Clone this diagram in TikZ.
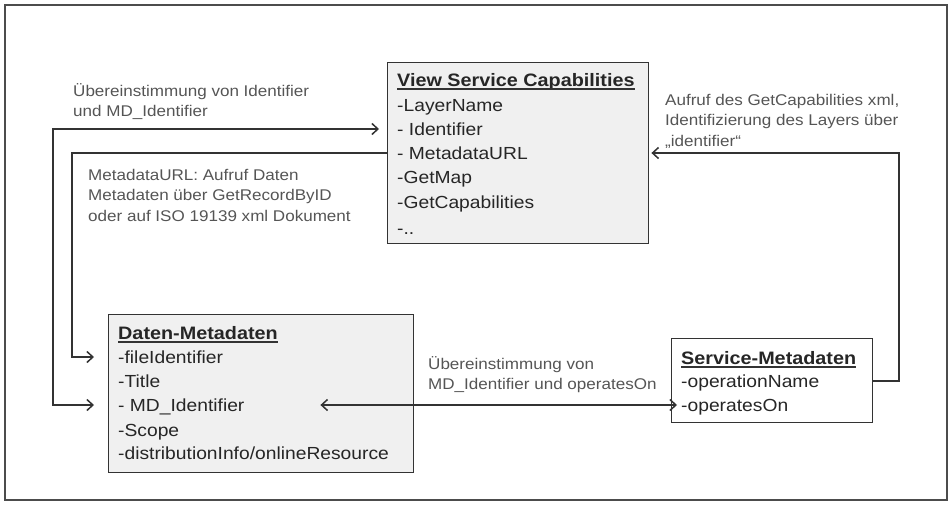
\documentclass[tikz,border=0pt]{standalone}
\usepackage{fontspec}
\setmainfont[FakeStretch=1.1]{Liberation Sans}
\usepackage{xcolor}
\usetikzlibrary{arrows.meta,calc}

\definecolor{inkgray}{HTML}{333333}
\definecolor{txtgray}{HTML}{555555}
\definecolor{boxfill}{HTML}{F0F0F0}

\begin{document}
\begin{tikzpicture}[
    x=1pt, y=-1pt,
    >={Straight Barb[length=6pt,width=11pt]},
    box/.style={rectangle, draw=inkgray, line width=1.4pt, fill=boxfill, anchor=north west, inner sep=0pt},
    head/.style={anchor=west, inner sep=0pt, font=\fontsize{18}{21}\selectfont\bfseries, text=black!85, text height=12.9pt, text depth=0pt},
    item/.style={anchor=west, inner sep=0pt, font=\fontsize{17.5}{21}\selectfont, text=black!85, text height=12.5pt, text depth=0pt},
    note/.style={anchor=north west, inner sep=0pt, align=left, font=\fontsize{15.5}{20.5}\selectfont, text=txtgray},
    link/.style={draw=inkgray, line width=1.5pt},
    uline/.style={draw=black!80, line width=1.2pt}
]
\useasboundingbox (0,0) rectangle (952,504);
\draw[draw=black!70, line width=1.5pt] (5,5) rectangle (947,500);

% === View Service Capabilities ===
\node[box, minimum width=261pt, minimum height=181pt] (vsc) at (387,62) {};
\node[head] (vscT) at (397,80) {View Service Capabilities};
\node[item] (vscL) at (397,105) {-LayerName};
\node[item] (vscId) at (397,129) {- Identifier};
\node[item] (vscUrl) at (397,153) {- MetadataURL};
\node[item] (vscMap) at (397,177) {-GetMap};
\node[item] (vscCap) at (397,202) {-GetCapabilities};
\node[item] (vscEtc) at (397,228) {-..};

% === Daten-Metadaten ===
\node[box, minimum width=305pt, minimum height=158pt] (dat) at (108,314) {};
\node[head] (datT) at (118,333) {Daten-Metadaten};
\node[item] (datFile) at (118,357) {-fileIdentifier};
\node[item] (datTitle) at (118,381) {-Title};
\node[item] (datMd) at (118,405) {- MD\_Identifier};
\node[item] (datScope) at (118,430) {-Scope};
\node[item] (datDist) at (118,453) {-distributionInfo/onlineResource};

% === Service-Metadaten ===
\node[box, fill=white, minimum width=201pt, minimum height=84pt] (svc) at (671,338) {};
\node[head] (svcT) at (681,358) {Service-Metadaten};
\node[item] (svcName) at (681,381) {-operationName};
\node[item] (svcOn) at (681,405) {-operatesOn};

% underlined titles
\foreach \t in {vscT,datT,svcT}
  \draw[uline] ([yshift=-2.5pt]\t.base west) -- ([yshift=-2.5pt]\t.base east);

% labels
\node[note] (nId) at (73,83) {Übereinstimmung von Identifier\\und MD\_Identifier};
\node[note] (nUrl) at (88,169) {MetadataURL: Aufruf Daten\\Metadaten über GetRecordByID\\oder auf ISO 19139 xml Dokument};
\node[note] (nCap) at (665,94) {Aufruf des GetCapabilities xml,\\Identifizierung des Layers über\\„identifier“};
\node[note] (nOp) at (428,356) {Übereinstimmung von\\MD\_Identifier und operatesOn};

% connectors
\coordinate (leftA) at (53,0);
\coordinate (leftB) at (72,0);
\coordinate (rightA) at (899,0);

\draw[link, <->] ($(vsc.west |- vscId)+(-8,0)$) -- (vscId -| leftA) |- ($(dat.west |- datMd)+(-14,0)$);
\draw[link, ->] (vsc.west |- vscUrl) -- (vscUrl -| leftB) |- ($(dat.west |- datFile)+(-14,0)$);
\draw[link, ->] (svc.east |- svcName) -- (svcName -| rightA) |- ($(vsc.east |- vscUrl)+(2,0)$);
\draw[link, <->] ($(dat.east |- datMd)+(-94,0)$) -- ($(svcOn.west)+(-4,0)$);
\end{tikzpicture}
\end{document}
